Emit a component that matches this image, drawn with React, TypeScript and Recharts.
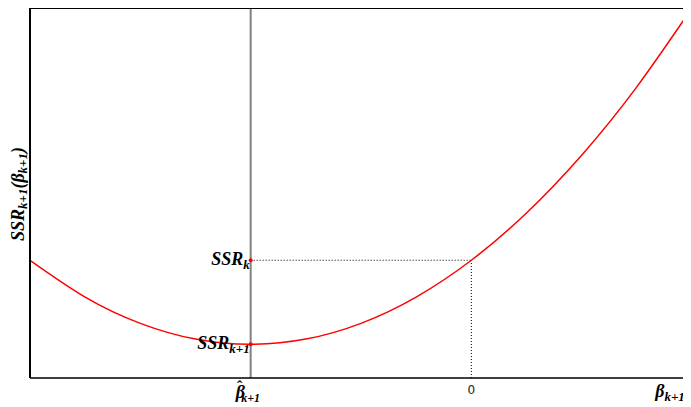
import React from 'react';
import { ComposedChart, Line, XAxis, YAxis, ReferenceLine, ReferenceDot, Label } from 'recharts';

const xValues = [-2, -1.75, -1.5, -1.25, -1, -0.75, -0.5, -0.25, 0, 0.25, 0.5, 0.75, 1];
const ssrValues = [2, 1.5625, 1.25, 1.0625, 1, 1.0625, 1.25, 1.5625, 2, 2.5625, 3.25, 4.0625, 5];
const xTicks = [-1, 0];
const yTicks = [1, 2];
const betaHat = -1;
const zeroX = 0;
const ssrK = 2;
const ssrK1 = 1;
const xDomain: [number, number] = [-2, 1];
const yDomain: [number, number] = [0.6, 5];

const data = xValues.map((x, i) => ({ x, y: ssrValues[i] }));

const MATH = "'Liberation Serif', 'DejaVu Serif', serif";

const XTick = (props: any) => {
  const { x, y, payload } = props;
  if (payload.value === 0) {
    return (
      <text x={x} y={y + 16} textAnchor="middle" fontFamily="'DejaVu Sans', sans-serif" fontSize={12} fill="#222">
        0
      </text>
    );
  }
  return (
    <text x={x - 15} y={y + 20} textAnchor="start" fontFamily={MATH} fontStyle="italic" fontWeight="bold" fontSize={18} fill="#000">
      <tspan>{'\u03B2'}</tspan>
      <tspan dx={-8} dy={-6} fontStyle="normal" fontSize={16}>{'\u02C6'}</tspan>
      <tspan dx={-1} dy={10} fontSize={12}>k+1</tspan>
    </text>
  );
};

const SsrLabel = (sub: string) => (props: any) => {
  const { viewBox } = props;
  const cx = viewBox.x + viewBox.width / 2;
  const cy = viewBox.y + viewBox.height / 2;
  return (
    <text x={cx - 1} y={cy + 5} textAnchor="end" fontFamily={MATH} fontStyle="italic" fontWeight="bold" fontSize={18} fill="#000">
      <tspan>SSR</tspan>
      <tspan dy={4} fontSize={13}>{sub}</tspan>
    </text>
  );
};

const YLabel = (props: any) => {
  const { viewBox } = props;
  const x = 10;
  const y = viewBox.y + viewBox.height / 2 + 1;
  return (
    <text x={x} y={y} transform={`rotate(-90 ${x} ${y})`} textAnchor="middle" dominantBaseline="central" fontFamily={MATH} fontStyle="italic" fontWeight="bold" fontSize={18} fill="#000">
      <tspan>SSR</tspan>
      <tspan dy={4} fontSize={13}>k+1</tspan>
      <tspan dy={-4}>({'\u03B2'}</tspan>
      <tspan dy={4} fontSize={13}>k+1</tspan>
      <tspan dy={-4}>)</tspan>
    </text>
  );
};

const XLabel = (props: any) => {
  const { viewBox } = props;
  const x = viewBox.x + viewBox.width - 22;
  const y = viewBox.y + 19;
  return (
    <text x={x} y={y} textAnchor="middle" fontFamily={MATH} fontStyle="italic" fontWeight="bold" fontSize={18} fill="#000">
      <tspan>{'\u03B2'}</tspan>
      <tspan dy={4} fontSize={13}>k+1</tspan>
    </text>
  );
};

export default function App() {
  return (
    <div style={{ width: 683, height: 399, overflow: 'hidden' }}>
      <ComposedChart width={684} height={399} data={data} margin={{ top: 0, right: 0, bottom: 0, left: 0 }}>
        <XAxis
          xAxisId="b"
          dataKey="x"
          type="number"
          domain={xDomain}
          allowDataOverflow
          ticks={xTicks}
          height={29}
          axisLine={{ stroke: '#000', strokeWidth: 1.5 }}
          tickLine={false}
          tickSize={0}
          tickMargin={0}
          tick={<XTick />}
          interval={0}
        >
          <Label content={<XLabel />} />
        </XAxis>
        <XAxis
          xAxisId="t"
          orientation="top"
          dataKey="x"
          type="number"
          domain={xDomain}
          allowDataOverflow
          ticks={[zeroX]}
          height={1}
          mirror
          axisLine={{ stroke: '#000', strokeWidth: 2 }}
          tickLine={{ stroke: '#555', strokeWidth: 1 }}
          tickSize={6}
          tick={false}
          interval={0}
        />
        <YAxis
          yAxisId="l"
          type="number"
          domain={yDomain}
          allowDataOverflow
          ticks={yTicks}
          width={22}
          axisLine={{ stroke: '#000', strokeWidth: 2 }}
          tickLine={{ stroke: '#555', strokeWidth: 1 }}
          tickSize={-7}
          tick={false}
          interval={0}
        >
          <Label content={<YLabel />} />
        </YAxis>
        <YAxis
          yAxisId="r"
          orientation="right"
          type="number"
          domain={yDomain}
          allowDataOverflow
          ticks={yTicks}
          width={1}
          mirror
          axisLine={{ stroke: '#000', strokeWidth: 2 }}
          tickLine={{ stroke: '#555', strokeWidth: 1 }}
          tickSize={6}
          tick={false}
          interval={0}
        />
        <ReferenceLine xAxisId="b" yAxisId="l" x={betaHat} stroke="#808080" strokeWidth={2} />
        <ReferenceLine
          xAxisId="b"
          yAxisId="l"
          segment={[{ x: betaHat, y: ssrK }, { x: zeroX, y: ssrK }]}
          stroke="#000"
          strokeDasharray="1 2"
        />
        <ReferenceLine
          xAxisId="b"
          yAxisId="l"
          segment={[{ x: zeroX, y: yDomain[0] }, { x: zeroX, y: ssrK }]}
          stroke="#000"
          strokeDasharray="1 2"
        />
        <Line
          xAxisId="b"
          yAxisId="l"
          dataKey="y"
          type="natural"
          stroke="#ff0000"
          strokeWidth={1.5}
          dot={false}
          isAnimationActive={false}
        />
        <ReferenceDot xAxisId="b" yAxisId="l" x={betaHat} y={ssrK} r={2} fill="#ff0000" stroke="none">
          <Label content={SsrLabel('k')} />
        </ReferenceDot>
        <ReferenceDot xAxisId="b" yAxisId="l" x={betaHat} y={ssrK1} r={2} fill="#ff0000" stroke="none">
          <Label content={SsrLabel('k+1')} />
        </ReferenceDot>
      </ComposedChart>
    </div>
  );
}
